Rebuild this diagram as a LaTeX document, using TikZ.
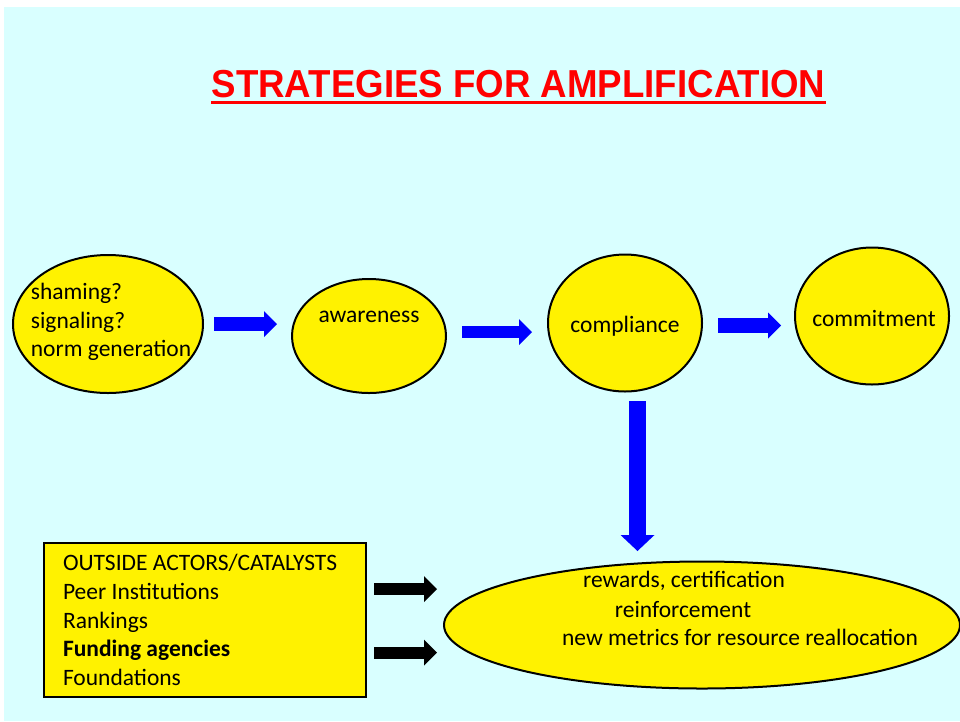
\documentclass[tikz,border=0pt]{standalone}
\usepackage{graphicx}
\usepackage{fontspec}
\setmainfont{Carlito}
\newfontfamily\headfont{Liberation Sans}
\usetikzlibrary{shapes.geometric,arrows.meta}
\definecolor{skycyan}{RGB}{217,255,255}

\begin{document}
\begin{tikzpicture}[x=1pt,y=-1pt,
		font=\fontsize{23.5}{28.75}\selectfont,
		bubble/.style={ellipse, draw=black, line width=2pt, fill=yellow, inner sep=0pt},
		panel/.style={rectangle, draw=black, line width=2pt, fill=yellow, inner ysep=0pt},
		flow/.style={draw=blue, line width=#1, -{Triangle[length=13pt,width=26pt,line width=0pt]}},
		flow/.default=14pt,
		push/.style={draw=black, line width=12pt, -{Triangle[length=13pt,width=26pt,line width=0pt]}}]
			\useasboundingbox (0,0) rectangle (960,721);
			\fill [white] (0,0) rectangle (960,721);
			\fill [skycyan] (4,7) rectangle (960,721);
			% title
			\node [font=\headfont\bfseries\fontsize{39}{47}\selectfont, text=red, anchor=base, inner sep=0pt] (title) at (518.5,97) {\scalebox{0.94}[1]{STRATEGIES FOR AMPLIFICATION}};
			\draw [red, line width=3pt] ([yshift=-5.5pt]title.base west) -- ([yshift=-5.5pt]title.base east);
			% top row
			\node [bubble, minimum width=190pt, minimum height=138pt,
				label={[align=left, xshift=3pt, yshift=2pt]center:{shaming?\\signaling?\\norm generation}}] (shame) at (108,324) {};
			\node [bubble, minimum width=154pt, minimum height=114pt,
				label={[yshift=19pt]center:awareness}] (aware) at (369,336) {};
			\node [bubble, minimum width=154pt, minimum height=137pt,
				label={[yshift=-3pt]center:compliance}] (comp) at (625,323) {};
			\node [bubble, minimum width=154pt, minimum height=137pt,
				label={[xshift=2pt, yshift=-2pt]center:commitment}] (commit) at (872,316) {};
			% bottom row
			\node [bubble, minimum width=516pt, minimum height=127pt,
				label={[xshift=-18pt, yshift=44pt]center:{rewards, certification}},
				label={[xshift=-19pt, yshift=16pt]center:reinforcement},
				label={[xshift=38pt, yshift=-12pt]center:new metrics for resource reallocation}] (reward) at (702,625) {};
			\node [panel, text width=284pt, inner xsep=19pt, minimum height=154pt, align=flush left] (actors) at (205,620)
				{OUTSIDE ACTORS/CATALYSTS\\Peer Institutions\\Rankings\\\textbf{Funding agencies}\\Foundations};
			% arrows
			\draw [flow] ([xshift=10pt]shame.east) -- ([xshift=-14pt, yshift=12pt]aware.west);
			\draw [flow=12pt] ([xshift=15pt, yshift=4pt]aware.east) -- ([xshift=-15pt, yshift=-9pt]comp.west);
			\draw [flow=15pt] ([xshift=15pt, yshift=-2.5pt]comp.east) -- ([xshift=-13pt, yshift=-9.5pt]commit.west);
			\draw [draw=blue, line width=17pt, -{Triangle[length=16pt,width=34pt,line width=0pt]}] ([xshift=12.5pt, yshift=-8.5pt]comp.south) -- ([xshift=-64.5pt, yshift=9.5pt]reward.north);
			\draw [push] ([xshift=7pt, yshift=31pt]actors.east) -- ([xshift=-6pt, yshift=36pt]reward.west);
			\draw [push] ([xshift=7pt, yshift=-32.5pt]actors.east) -- ([xshift=-6pt, yshift=-27.5pt]reward.west);
		\end{tikzpicture}
\end{document}
